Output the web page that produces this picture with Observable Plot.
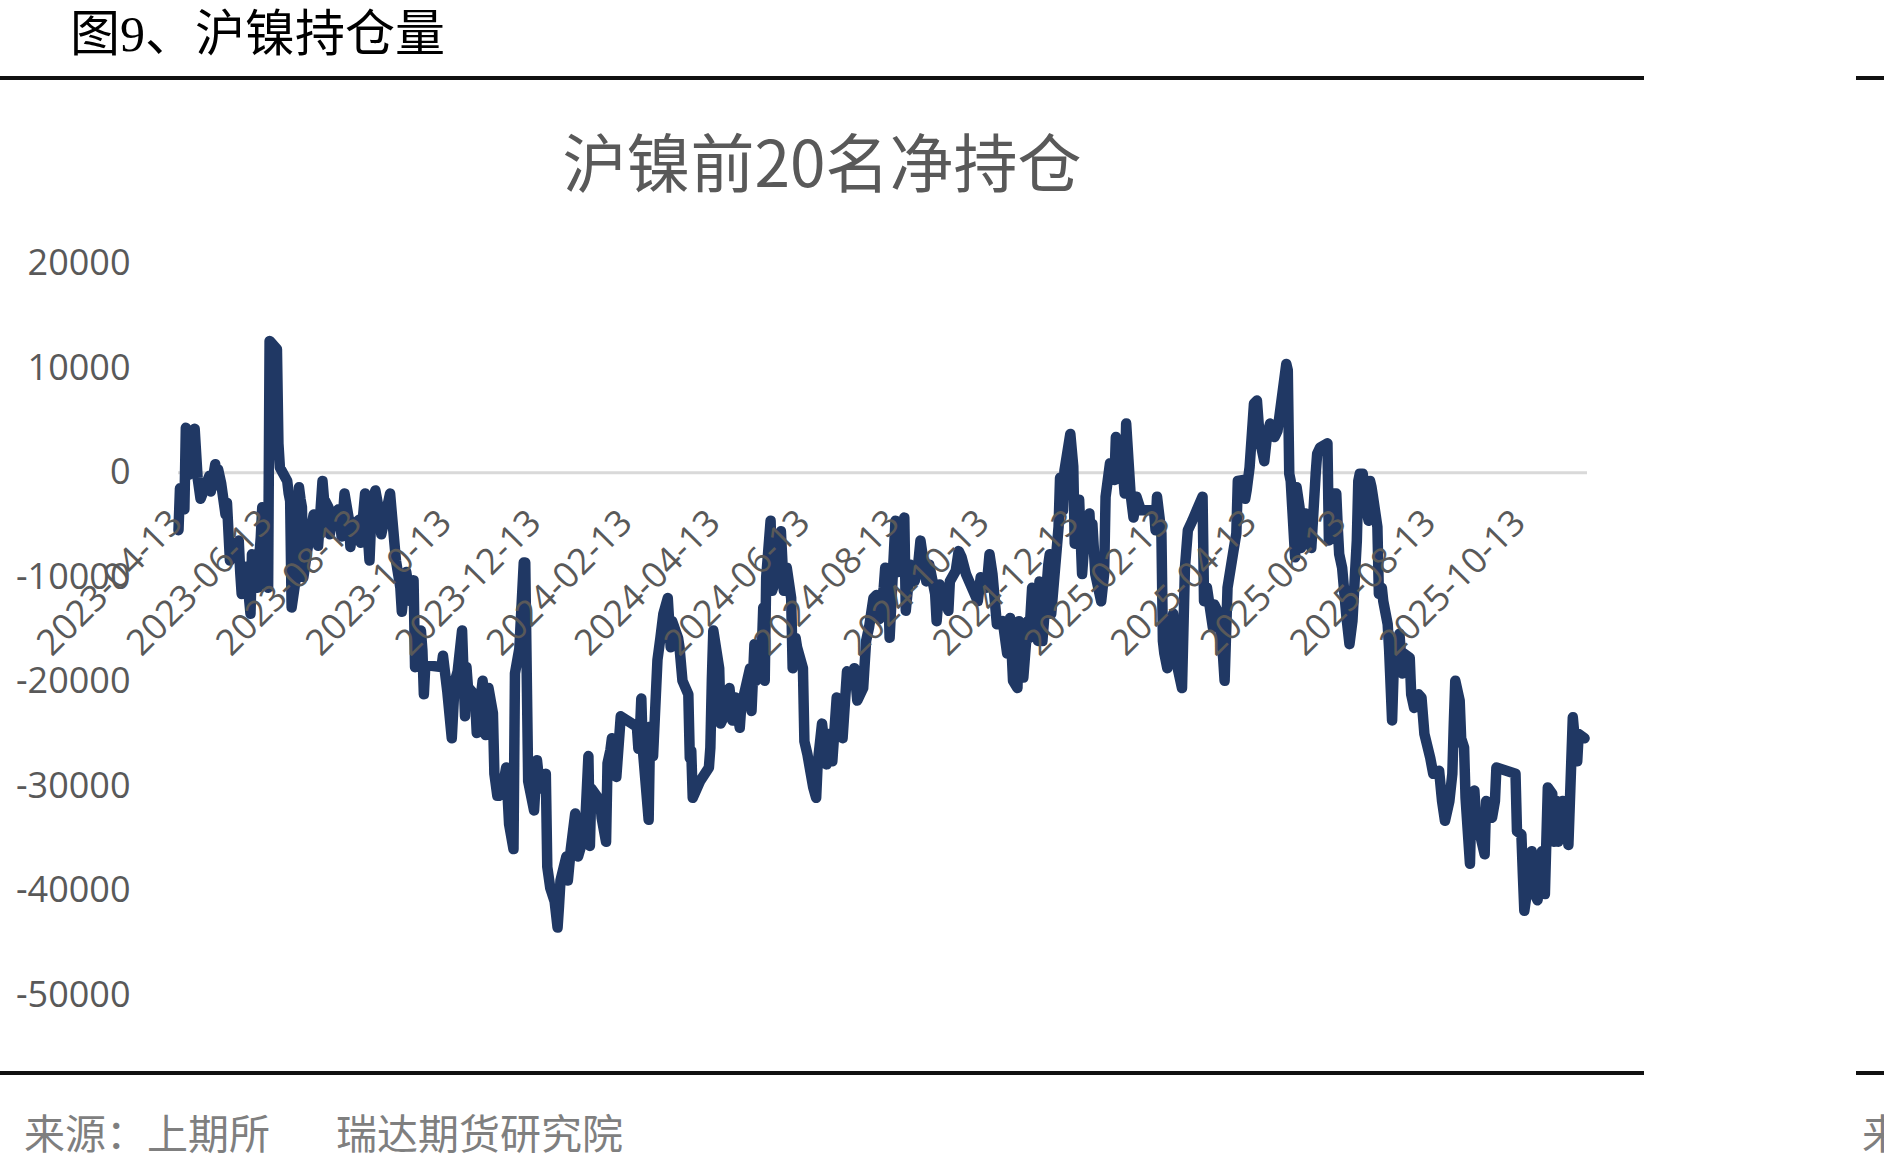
<!DOCTYPE html>
<html><head><meta charset="utf-8">
<script src="https://cdn.jsdelivr.net/npm/d3@7"></script>
<script src="https://cdn.jsdelivr.net/npm/@observablehq/plot@0.6"></script>
<style>
html,body{margin:0;padding:0;background:#fff;}
body{width:1884px;height:1172px;position:relative;overflow:hidden;}
.hdr{position:absolute;left:70px;top:9px;font-family:"Liberation Serif","Noto Sans CJK SC",serif;font-size:50px;line-height:1;color:#000;white-space:nowrap;}
.rule{position:absolute;height:4px;background:#111;}
.title{position:absolute;left:0;width:1644px;top:127px;text-align:center;font-family:"Noto Sans CJK SC",sans-serif;font-size:64px;line-height:1;color:#595959;white-space:nowrap;}
.src{position:absolute;top:1115px;font-family:"Liberation Serif","Noto Sans CJK SC",serif;font-size:41px;line-height:1;color:#7f7f7f;white-space:nowrap;}
#chart{position:absolute;left:0;top:200px;}
</style></head>
<body>
<div class="hdr">图9、沪镍持仓量</div>
<div class="rule" style="left:0;top:76px;width:1644px"></div>
<div class="rule" style="left:1856px;top:76px;width:28px"></div>
<div class="title">沪镍前20名净持仓</div>
<div id="chart"></div>
<div class="rule" style="left:0;top:1071px;width:1644px"></div>
<div class="rule" style="left:1856px;top:1071px;width:28px"></div>
<div class="src" style="left:24px">来源：上期所</div>
<div class="src" style="left:336px">瑞达期货研究院</div>
<div class="src" style="left:1862px">来</div>
<script>
const chartTitle = "沪镍前20名净持仓";
const xTickLabels = ["2023-04-13","2023-06-13","2023-08-13","2023-10-13","2023-12-13","2024-02-13","2024-04-13","2024-06-13","2024-08-13","2024-10-13","2024-12-13","2025-02-13","2025-04-13","2025-06-13","2025-08-13","2025-10-13"];
const xDomain = ["2023-04-13","2025-11-27"];
const yTicks = [-50000,-40000,-30000,-20000,-10000,0,10000,20000];

const dates = [
"2023-04-13","2023-04-14","2023-04-17","2023-04-18","2023-04-20","2023-04-21","2023-04-24","2023-04-26","2023-04-28",
"2023-05-04","2023-05-05","2023-05-08","2023-05-09","2023-05-10","2023-05-12","2023-05-15","2023-05-16","2023-05-18","2023-05-22","2023-05-24","2023-05-25","2023-05-26","2023-05-29",
"2023-06-01","2023-06-02","2023-06-06","2023-06-07","2023-06-08","2023-06-09","2023-06-12","2023-06-13","2023-06-14","2023-06-16","2023-06-19","2023-06-20","2023-06-21","2023-06-26","2023-06-27","2023-06-28","2023-06-29",
"2023-07-03","2023-07-04","2023-07-05","2023-07-06","2023-07-07","2023-07-10","2023-07-12","2023-07-14","2023-07-17","2023-07-18","2023-07-20","2023-07-21","2023-07-24","2023-07-25","2023-07-27","2023-07-31",
"2023-08-02","2023-08-04","2023-08-07","2023-08-08","2023-08-10","2023-08-14","2023-08-15","2023-08-18","2023-08-21","2023-08-22","2023-08-23","2023-08-25","2023-08-28","2023-08-29",
"2023-09-01","2023-09-04","2023-09-06","2023-09-08","2023-09-11","2023-09-12","2023-09-14","2023-09-15","2023-09-18","2023-09-20","2023-09-21","2023-09-22","2023-09-25","2023-09-26","2023-09-27","2023-09-28",
"2023-10-09","2023-10-10","2023-10-13","2023-10-16","2023-10-18","2023-10-20","2023-10-23","2023-10-25","2023-10-26","2023-10-27","2023-10-30",
"2023-11-01","2023-11-02","2023-11-06","2023-11-07","2023-11-08","2023-11-10","2023-11-13","2023-11-14","2023-11-16","2023-11-17","2023-11-20","2023-11-22","2023-11-24","2023-11-27","2023-11-28",
"2023-12-01","2023-12-04","2023-12-05","2023-12-07","2023-12-11","2023-12-13","2023-12-15","2023-12-19","2023-12-20","2023-12-22","2023-12-25","2023-12-27","2023-12-28","2023-12-29",
"2024-01-02","2024-01-03","2024-01-05","2024-01-08","2024-01-10","2024-01-12","2024-01-15","2024-01-17","2024-01-18","2024-01-19","2024-01-23","2024-01-25","2024-01-26","2024-01-29","2024-01-30",
"2024-02-01","2024-02-02","2024-02-05","2024-02-08","2024-02-19","2024-02-20","2024-02-21","2024-02-22","2024-02-23","2024-02-27","2024-02-28",
"2024-03-01","2024-03-04","2024-03-06","2024-03-08","2024-03-11","2024-03-13","2024-03-14","2024-03-18","2024-03-19","2024-03-21","2024-03-25","2024-03-26","2024-03-27","2024-03-28",
"2024-04-02","2024-04-08","2024-04-09","2024-04-10","2024-04-11","2024-04-15","2024-04-16","2024-04-19","2024-04-22","2024-04-24","2024-04-26","2024-04-29","2024-04-30",
"2024-05-06","2024-05-07","2024-05-09","2024-05-10","2024-05-14","2024-05-15","2024-05-16","2024-05-17","2024-05-20","2024-05-21","2024-05-24","2024-05-27","2024-05-29","2024-05-31",
"2024-06-03","2024-06-04","2024-06-06","2024-06-07","2024-06-11","2024-06-12","2024-06-14","2024-06-18","2024-06-20","2024-06-21","2024-06-24","2024-06-27","2024-06-28",
"2024-07-01","2024-07-04","2024-07-05","2024-07-08","2024-07-11","2024-07-15","2024-07-16","2024-07-18","2024-07-22","2024-07-24","2024-07-26","2024-07-29","2024-07-31",
"2024-08-02","2024-08-05","2024-08-06","2024-08-08","2024-08-09","2024-08-13","2024-08-15","2024-08-19","2024-08-20","2024-08-23","2024-08-26","2024-08-28","2024-08-30",
"2024-09-03","2024-09-05","2024-09-09","2024-09-10","2024-09-12","2024-09-18","2024-09-19","2024-09-23","2024-09-25","2024-09-27","2024-09-30",
"2024-10-08","2024-10-10","2024-10-14","2024-10-16","2024-10-18","2024-10-21","2024-10-25","2024-10-28","2024-10-30",
"2024-11-01","2024-11-04","2024-11-05","2024-11-07","2024-11-08","2024-11-11","2024-11-12","2024-11-14","2024-11-18","2024-11-19","2024-11-21","2024-11-25","2024-11-26","2024-11-27",
"2024-12-02","2024-12-03","2024-12-05","2024-12-06","2024-12-10","2024-12-12","2024-12-13","2024-12-16","2024-12-18","2024-12-20","2024-12-23","2024-12-24","2024-12-25","2024-12-27","2024-12-31",
"2025-01-02","2025-01-03","2025-01-06","2025-01-09","2025-01-10","2025-01-14","2025-01-16","2025-01-17","2025-01-20","2025-01-22","2025-01-24","2025-01-27",
"2025-02-05","2025-02-06","2025-02-07","2025-02-10","2025-02-11","2025-02-12","2025-02-14","2025-02-18","2025-02-20","2025-02-24","2025-02-26","2025-02-28",
"2025-03-03","2025-03-06","2025-03-10","2025-03-11","2025-03-13","2025-03-17","2025-03-18","2025-03-21","2025-03-24","2025-03-25","2025-03-27","2025-03-31",
"2025-04-02","2025-04-03","2025-04-07","2025-04-08","2025-04-09","2025-04-11","2025-04-14","2025-04-16","2025-04-18","2025-04-21","2025-04-23","2025-04-25","2025-04-28","2025-04-29","2025-04-30",
"2025-05-06","2025-05-07","2025-05-08","2025-05-09","2025-05-12","2025-05-13","2025-05-15","2025-05-16","2025-05-19","2025-05-21","2025-05-23","2025-05-26","2025-05-27","2025-05-29",
"2025-06-03","2025-06-04","2025-06-05","2025-06-09","2025-06-10","2025-06-11","2025-06-13","2025-06-16","2025-06-18","2025-06-20","2025-06-23","2025-06-24","2025-06-25","2025-06-27","2025-06-30",
"2025-07-01","2025-07-02","2025-07-03","2025-07-04","2025-07-07","2025-07-08","2025-07-10","2025-07-11","2025-07-14","2025-07-15","2025-07-17","2025-07-18","2025-07-22","2025-07-24","2025-07-25","2025-07-29","2025-07-30",
"2025-08-01","2025-08-04","2025-08-06","2025-08-08","2025-08-12","2025-08-14","2025-08-18","2025-08-20","2025-08-22","2025-08-25","2025-08-27","2025-08-28","2025-08-29",
"2025-09-01","2025-09-02","2025-09-04","2025-09-05","2025-09-08","2025-09-09","2025-09-11","2025-09-12","2025-09-16","2025-09-18","2025-09-19","2025-09-23","2025-09-25","2025-09-26",
"2025-10-09","2025-10-10","2025-10-13","2025-10-14","2025-10-15","2025-10-16","2025-10-17","2025-10-20","2025-10-22","2025-10-24","2025-10-27","2025-10-29","2025-10-31",
"2025-11-03","2025-11-04","2025-11-06","2025-11-07","2025-11-10","2025-11-13","2025-11-14","2025-11-17","2025-11-18","2025-11-20","2025-11-21","2025-11-25"
];

const netPosition = [
-5500,-1500,-3500,4300,-200,2500,4200,-500,-2500,
-300,-1800,800,-1200,300,-1000,-4000,-2900,-8400,-7000,-6500,-9500,-11600,-9000,
-13500,-7800,-11000,-8000,-6200,-3300,-9000,-11000,12600,12300,11800,2800,500,-800,-2000,-2700,-12900,
-9000,-1400,-2500,-3300,-10000,-7100,-5500,-4000,-7000,-5000,-800,-2500,-3300,-5900,-4000,-3500,
-6100,-2000,-4500,-7100,-5000,-4500,-6700,-2000,-8400,-5000,-2900,-1700,-4000,-5900,
-4000,-2000,-5200,-8400,-11000,-13300,-10300,-9500,-12300,-10300,-18600,-16000,-15100,-17000,-21200,-18400,
-18600,-17500,-21000,-25400,-20000,-19000,-15100,-23300,-18600,-20500,-21000,
-22000,-24900,-19900,-22000,-25100,-20600,-23000,-28800,-30900,-30900,-29800,-28200,-33600,-36000,-19200,
-16800,-8600,-8600,-29500,-32300,-27500,-30200,-28800,-37700,-39700,-41000,-43500,-41400,-39000,
-36700,-39000,-36000,-32600,-36700,-35700,-33000,-27100,-35700,-30200,-31000,-31300,-33000,-35300,-27800,
-26500,-25400,-29100,-23300,-24300,-26400,-25000,-21600,-26400,-33200,-24300,
-27100,-17900,-15800,-13500,-12000,-16700,-14200,-15800,-16700,-19900,-21200,-27300,-26600,-31100,
-29500,-28200,-26300,-19900,-15100,-18700,-24000,-23100,-20600,-23700,-21500,-24400,-22400,
-18700,-22800,-16400,-19900,-17000,-12900,-19900,-10000,-4600,-11300,-10000,-5600,-11300,-9100,
-12000,-18700,-15800,-16700,-18700,-25700,-26900,-30100,-31100,-27900,-24000,-27900,-25000,
-27600,-21500,-21800,-25400,-19000,-19900,-18700,-21800,-20600,-16100,-14800,-12000,-11700,
-14000,-11000,-9100,-10400,-15800,-4600,-9500,-4300,-13200,-8800,-10400,-9400,-6500,
-10400,-8800,-11600,-14200,-10700,-13200,-10400,-9400,-7500,-8100,-9700,
-12300,-10000,-11000,-7800,-9700,-14500,-14200,-17300,-13900,
-19900,-20600,-14200,-17300,-19600,-14200,-15800,-11000,-16100,-10400,-16100,-8800,-7800,-13500,
-5200,-500,-3600,200,3700,600,-6800,-2600,-9700,-5800,-3900,-6800,-4900,-9700,-12300,
-9700,-2300,900,-700,3400,1400,-2000,4700,-2000,-4300,-2300,-3600,
-3600,-5500,-2300,-5800,-16100,-17300,-18700,-13500,-18000,-20600,-9100,-5500,
-4600,-3600,-2300,-12300,-11000,-14800,-12600,-13500,-17700,-19900,-11000,-7500,
-5800,-800,-700,-2500,-1700,500,6600,6900,3100,1100,3700,4700,3400,3700,4000,
10400,9800,-100,-800,-8100,-1400,-3300,-7200,-3900,-4600,-7200,-100,1800,2400,
2800,-6500,-2000,-2000,-5200,-7800,-9100,-13900,-16400,-14200,-6500,-800,-100,-100,-3900,
-4600,-800,-1400,-2300,-5200,-11600,-11000,-12300,-14500,-17000,-23700,-19200,-15400,-19200,-17300,-17700,-21200,
-22500,-21200,-21500,-25000,-27300,-28800,-28500,-31400,-33300,-31400,-28800,-24000,-19900,
-21800,-25400,-26300,-31100,-37400,-31400,-30400,-32700,-35300,-36500,-31400,-33000,-31400,-28200,
-28800,-34300,-34600,-38400,-41900,-40900,-39000,-36200,-40300,-40900,-36200,-40300,-30100,
-30700,-35300,-31400,-35300,-31400,-32700,-35600,-23400,-25000,-27600,-25000,-25400
];

const parse = d3.utcParse("%Y-%m-%d");
const n = Math.min(dates.length, netPosition.length);
const data = d3.range(n).map(i => ({date: parse(dates[i]), value: netPosition[i]}));
const tickData = xTickLabels.map(s => ({date: parse(s), label: s}));

const chart = Plot.plot({
  width: 1644,
  height: 850,
  marginLeft: 178,
  marginRight: 57,
  marginTop: 63,
  marginBottom: 55,
  style: {fontFamily: "'Open Sans','Noto Sans',sans-serif", background: "transparent", overflow: "visible"},
  x: {type: "utc", domain: xDomain.map(parse), axis: null},
  y: {domain: [yTicks[0], yTicks[yTicks.length - 1]], axis: null},
  marks: [
    Plot.ruleY([0], {stroke: "#d9d9d9", strokeWidth: 3}),
    Plot.line(data, {x: "date", y: "value", stroke: "#203864", strokeWidth: 10.5, strokeLinejoin: "round", strokeLinecap: "round"}),
    Plot.axisY({ticks: yTicks, tickSize: 0, tickPadding: 48, tickFormat: d => String(d), fontSize: 36, color: "#595959", label: null}),
    Plot.text(tickData, {x: "date", y: () => 0, text: "label", rotate: -45, textAnchor: "end", fontSize: 36, fill: "#595959", dx: -2, dy: 44})
  ]
});
document.getElementById("chart").appendChild(chart);
</script>
</body></html>
